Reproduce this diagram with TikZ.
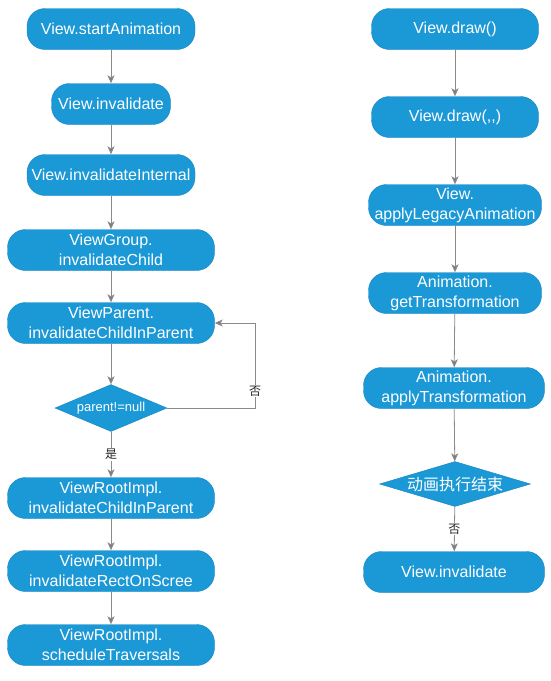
\documentclass[tikz,border=0pt]{standalone}
\usepackage{fontspec}
\setmainfont{Liberation Sans}
\newfontfamily\cjk{Noto Sans CJK SC}
\usetikzlibrary{arrows.meta,shapes.geometric}
\definecolor{boxblue}{HTML}{1B98D6}
\definecolor{boxedge}{HTML}{1785C0}
\definecolor{linegray}{HTML}{8A8A8A}
\tikzset{
	flowbox/.style={draw=boxedge, fill=boxblue, text=white, rounded corners=18pt, minimum height=41pt, inner sep=0pt, align=center, font=\fontsize{16}{20}\selectfont},
	flowdiam/.style={diamond, draw=boxedge, fill=boxblue, text=white, inner sep=0pt},
	flowarrow/.style={draw=linegray, line width=0.8pt, -{Stealth[length=8pt,width=7pt,inset=2pt,fill=linegray!90!black]}},
	flowlabel/.style={fill=white, inner sep=1pt, text=black!85, font=\cjk\fontsize{12}{12}\selectfont}
}
\begin{document}
\begin{tikzpicture}[x=1pt, y=-1pt]
		\useasboundingbox[fill=white] (0,0) rectangle (550,681);

		% columna izquierda
		\node[flowbox, minimum width=168pt] (start) at (111,29) {View.startAnimation}; % center (111, 29)
		\node[flowbox, minimum width=119pt] (inval) at (111,104) {View.invalidate}; % center (111, 104)
		\node[flowbox, minimum width=168pt] (internal) at (111,175) {View.invalidateInternal}; % center (111, 175)
		\node[flowbox, minimum width=207pt] (group) at (111,250) {ViewGroup.\\invalidateChild}; % center (111, 250)
		\node[flowbox, minimum width=207pt] (parent) at (111,323) {ViewParent.\\invalidateChildInParent}; % center (111, 323)
		\node[flowdiam, minimum width=112pt, minimum height=47pt] (check) at (111,408) {\makebox[0pt]{\fontsize{13}{13}\selectfont parent!=null}}; % center (111, 408)
		\node[flowbox, minimum width=207pt] (rootchild) at (111,498) {ViewRootImpl.\\invalidateChildInParent}; % center (111, 498)
		\node[flowbox, minimum width=207pt] (rootrect) at (111,571) {ViewRootImpl.\\invalidateRectOnScree}; % center (111, 571)
		\node[flowbox, minimum width=207pt] (roottrav) at (111,645) {ViewRootImpl.\\scheduleTraversals}; % center (111, 645)
		\coordinate (loop) at (255,323); % esquina del bucle

		\draw[flowarrow] (start) -- (inval);
		\draw[flowarrow] (inval) -- (internal);
		\draw[flowarrow] (internal) -- (group);
		\draw[flowarrow] (group) -- (parent);
		\draw[flowarrow] (parent) -- (check);
		\draw[flowarrow] (check.east) -| (loop) node[flowlabel, pos=0.6] (nolabel) {否} -- (parent.east);
		\draw[flowarrow] (check) -- node[flowlabel] (yeslabel) {是} (rootchild);
		\draw[flowarrow] (rootchild) -- (rootrect);
		\draw[flowarrow] (rootrect) -- (roottrav);

		% columna derecha
		\node[flowbox, minimum width=167pt] (draw) at (455,29) {View.draw()}; % center (455, 29)
		\node[flowbox, minimum width=167pt] (drawargs) at (455,117) {View.draw(,\kern0pt,)}; % center (455, 117)
		\node[flowbox, minimum width=173pt] (legacy) at (455,205) {View.\\applyLegacyAnimation}; % center (455, 205)
		\node[flowbox, minimum width=173pt] (gettrans) at (455,293) {Animation.\\getTransformation}; % center (455, 293)
		\node[flowbox, minimum width=181pt] (applytrans) at (454,388) {Animation.\\applyTransformation}; % center (454, 388)
		\node[flowdiam, minimum width=151pt, minimum height=45pt] (finished) at (455,484) {\makebox[0pt]{\cjk\fontsize{16}{16}\selectfont 动画执行结束}}; % center (455, 484)
		\node[flowbox, minimum width=181pt] (reinval) at (454,572) {View.invalidate}; % center (454, 572)

		\draw[flowarrow] (draw) -- (drawargs);
		\draw[flowarrow] (drawargs) -- (legacy);
		\draw[flowarrow] (legacy) -- (gettrans);
		\draw[flowarrow] (gettrans) -- (applytrans);
		\draw[flowarrow] (applytrans) -- (finished);
		\draw[flowarrow] (finished) -- node[flowlabel] (endlabel) {否} (reinval);
	\end{tikzpicture}
\end{document}
